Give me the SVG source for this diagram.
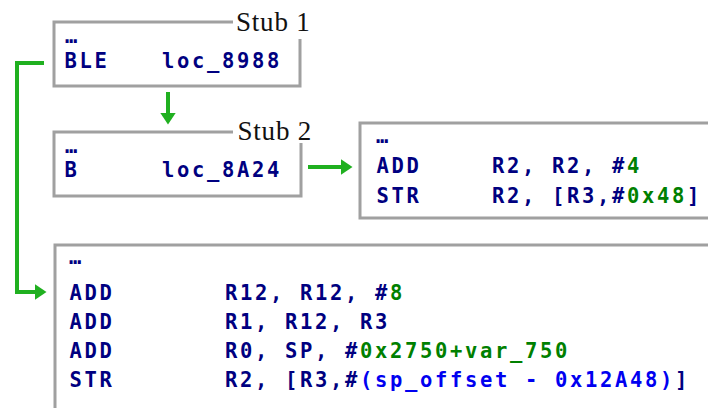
<svg xmlns="http://www.w3.org/2000/svg" width="708" height="408" viewBox="0 0 708 408">
  <defs>
    <style>
      .frame { fill: none; stroke: #a0a0a0; stroke-width: 3; }
      .asm { font-family: "DejaVu Sans Mono", "Liberation Mono", monospace; font-weight: bold; font-size: 20.5px; letter-spacing: 2.66px; fill: #000080; }
      .num { fill: #008000; }
      .sym { fill: #0000f0; }
      .stub { font-family: "Liberation Serif", "Times New Roman", serif; font-size: 27px; fill: #111111; }
      .flow { fill: none; stroke: #20b020; stroke-width: 4; stroke-linejoin: miter; }
    </style>
    <marker id="head" viewBox="0 0 12 16" refX="0.5" refY="8" markerWidth="12" markerHeight="16" markerUnits="userSpaceOnUse" orient="auto">
      <path d="M0,0 L12,8 L0,16 z" fill="#20b020"/>
    </marker>
  </defs>
  <rect width="708" height="408" fill="#ffffff"/>

  <g id="stub1">
    <path class="frame" d="M233,22 H54 V86 H300 V39"/>
    <text class="stub" x="236" y="31" letter-spacing="0.8">Stub 1</text>
    <text class="asm" x="65" y="42.7">…</text>
    <text class="asm" y="68"><tspan x="64.5">BLE</tspan><tspan x="162">loc_8988</tspan></text>
  </g>

  <g id="stub2">
    <path class="frame" d="M233,132 H54 V196 H301 V143"/>
    <text class="stub" x="237.5" y="140" letter-spacing="0.8">Stub 2</text>
    <text class="asm" x="65" y="152.5">…</text>
    <text class="asm" y="176.5"><tspan x="64.5">B</tspan><tspan x="162">loc_8A24</tspan></text>
  </g>

  <g id="target-add-str">
    <path class="frame" d="M712,123 H360 V218 H712"/>
    <text class="asm" x="376" y="142.5">…</text>
    <text class="asm" y="173.3"><tspan x="376.5">ADD</tspan><tspan x="492">R2, R2, #</tspan><tspan class="num">4</tspan></text>
    <text class="asm" y="202.7"><tspan x="376.5">STR</tspan><tspan x="492">R2, [R3,#</tspan><tspan class="num">0x48</tspan><tspan>]</tspan></text>
  </g>

  <g id="target-loc-8988">
    <path class="frame" d="M712,245 H55 V412"/>
    <text class="asm" x="69" y="264">…</text>
    <text class="asm" y="300"><tspan x="69.5">ADD</tspan><tspan x="225">R12, R12, #</tspan><tspan class="num">8</tspan></text>
    <text class="asm" y="329.3"><tspan x="69.5">ADD</tspan><tspan x="225">R1, R12, R3</tspan></text>
    <text class="asm" y="358.3"><tspan x="69.5">ADD</tspan><tspan x="225">R0, SP, #</tspan><tspan class="num">0x2750+var_750</tspan></text>
    <text class="asm" y="386.7"><tspan x="69.5">STR</tspan><tspan x="225">R2, [R3,#</tspan><tspan class="sym">(sp_offset - 0x12A48)</tspan><tspan>]</tspan></text>
  </g>

  <g id="connectors">
    <path class="flow" d="M168,92 V113" marker-end="url(#head)"/>
    <path class="flow" d="M308,167 H341" marker-end="url(#head)"/>
    <path class="flow" d="M44,63 H17 V292 H35" marker-end="url(#head)"/>
  </g>
</svg>
